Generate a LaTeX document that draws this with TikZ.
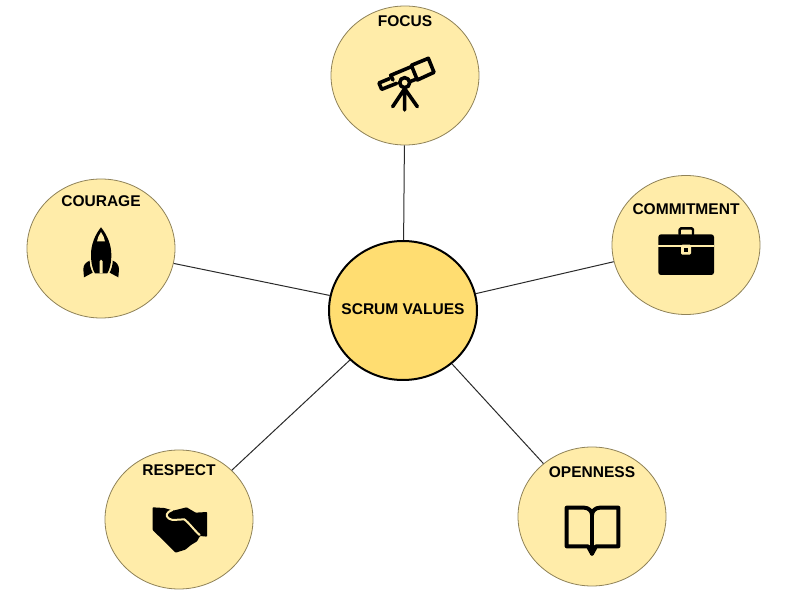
\documentclass[tikz,border=0pt]{standalone}
\usepackage{fontspec}
\setmainfont{Liberation Sans}
\usetikzlibrary{shapes.geometric}
\definecolor{petal}{HTML}{FFECA9}
\definecolor{hub}{HTML}{FFDD71}
\definecolor{rim}{HTML}{8F8258}
\definecolor{wire}{HTML}{2A2A2A}
\tikzset{
  petalnode/.style={ellipse,draw=rim,line width=0.6pt,fill=petal,inner sep=0pt,minimum width=111pt,minimum height=104.25pt},
  hubnode/.style={ellipse,draw=black,line width=1.5pt,fill=hub,inner sep=0pt,minimum width=111pt,minimum height=104.25pt},
  lbl/.style={font=\bfseries\fontsize{11.65pt}{13pt}\selectfont,inner sep=0pt,text=black},
  wirel/.style={draw=wire,line width=0.75pt},
  iconbox/.style={x=0.25pt,y=-0.25pt},
  ink/.style={draw=black,line width=#1,line cap=round,line join=round}
}
\begin{document}
\begin{tikzpicture}[x=0.75pt,y=-0.75pt]
\useasboundingbox (0,0) rectangle (786,598);
\node[hubnode] (hub) at (403,310.5) {};
\node[petalnode] (focus) at (405,75.5) {};
\node[petalnode] (commit) at (686,245) {};
\node[petalnode] (courage) at (101,248.5) {};
\node[petalnode] (respect) at (179,519.5) {};
\node[petalnode] (open) at (592,516.5) {};
\draw[wirel] (hub) -- (focus);
\draw[wirel] (hub) -- (commit);
\draw[wirel] (hub) -- (courage);
\draw[wirel] (hub) -- (respect);
\draw[wirel] (hub) -- (open);
\node[lbl] (lhub) at (403,309) {SCRUM VALUES};
\node[lbl] (lfocus) at (405,21.5) {FOCUS};
\node[lbl] (lcommit) at (686,209.5) {COMMITMENT};
\node[lbl] (lcourage) at (101,201) {COURAGE};
\node[lbl] (lrespect) at (179,470.5) {RESPECT};
\node[lbl] (lopen) at (592,472.5) {OPENNESS};
% telescope
\begin{scope}[shift={(330,0)},iconbox]
\draw[ink=2.7pt] (244,196) -- (295,175) -- (312,217) -- (262,240) -- cycle;
\draw[ink=2.7pt] (244,200) -- (182,226) -- (189,240);
\draw[ink=2.7pt] (262,236) -- (242,244);
\draw[ink=2.7pt] (178,236) -- (147,249) -- (155,268) -- (200,250);
\draw[ink=2.7pt] (224,248) circle (15);
\draw[ink=2.7pt] (224,266) -- (188,320) (224,266) -- (224,330) (224,266) -- (262,320);
\end{scope}
% briefcase
\begin{scope}[shift={(610,175)},iconbox]
\draw[ink=1.8pt,rounded corners=1pt] (209,178) -- (209,160) -- (249,160) -- (249,178);
\fill[black,rounded corners=2pt] (145,178) rectangle (312,300);
\fill[petal] (145,211) rectangle (312,216);
\fill[petal,rounded corners=1pt] (213,209) rectangle (243,239);
\fill[black] (222,218) rectangle (234,231);
\end{scope}
% rocket
\begin{scope}[shift={(25,178)},iconbox]
\fill[black] (228,148) .. controls (210,170) and (198,200) .. (198,230)
  .. controls (198,255) and (203,275) .. (210,286) -- (247,286)
  .. controls (254,275) and (259,255) .. (259,230)
  .. controls (259,200) and (246,170) .. (228,148) -- cycle;
\fill[petal] (228,162) .. controls (222,170) and (218,180) .. (216,190) -- (240,190) .. controls (238,180) and (234,170) .. (228,162) -- cycle;
\fill[petal] (224,286) -- (224,250) -- (228,245) -- (233,250) -- (233,286) -- cycle;
\fill[black] (194,248) .. controls (182,252) and (175,262) .. (175,274) -- (177,298) -- (203,284) .. controls (197,272) and (194,262) .. (194,248) -- cycle;
\fill[black] (263,248) .. controls (275,252) and (282,262) .. (282,274) -- (280,298) -- (254,284) .. controls (260,272) and (263,262) .. (263,248) -- cycle;
\end{scope}
% handshake
\begin{scope}[shift={(105,450)},iconbox]
\fill[black,rounded corners=0.5pt] (143,172) -- (178,174) -- (205,182) -- (245,172) -- (272,188) -- (306,186) -- (306,260) -- (285,258) -- (276,274) -- (258,285) -- (241,299) -- (212,308) -- (143,240) -- cycle;
\draw[petal,line width=1.5pt,line cap=round,line join=round] (202,180) .. controls (184,186) and (180,198) .. (192,206) -- (203,210) -- (238,208) .. controls (252,218) and (265,238) .. (284,255);
\end{scope}
% book
\begin{scope}[shift={(518,447)},iconbox]
\draw[ink=3pt] (146,182) -- (198,182) .. controls (212,182) and (222,192) .. (222,204) .. controls (222,192) and (232,182) .. (246,182) -- (301,182) -- (301,298) -- (234,298) -- (222,320) -- (210,298) -- (146,298) -- cycle;
\draw[ink=3pt] (222,204) -- (222,320);
\end{scope}
\end{tikzpicture}
\end{document}
